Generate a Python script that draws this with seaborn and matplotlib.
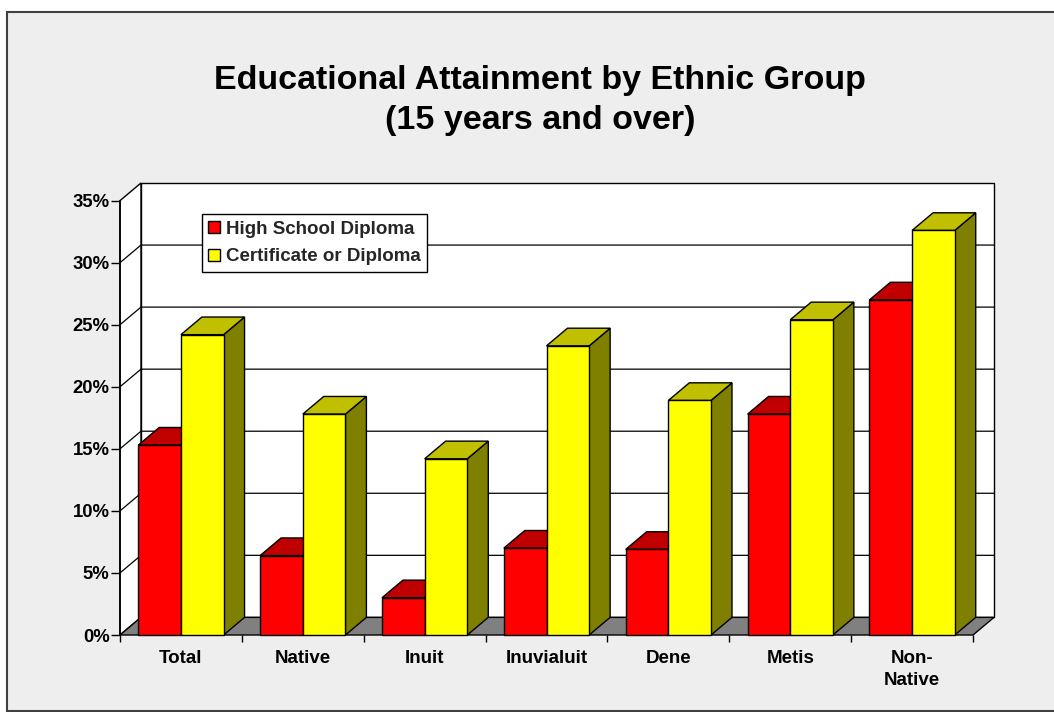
import matplotlib
matplotlib.use("Agg")
import matplotlib.pyplot as plt
from matplotlib.patches import Polygon, Rectangle
import pandas as pd
import seaborn as sns

# ---- data -------------------------------------------------------------
groups = ["Total", "Native", "Inuit", "Inuvialuit", "Dene", "Metis", "Non-\nNative"]
high_school = [15.3, 6.4, 3.0, 7.0, 6.9, 17.8, 27.0]
certificate = [24.2, 17.8, 14.2, 23.3, 18.9, 25.4, 32.6]
series_names = ["High School Diploma", "Certificate or Diploma"]
y_ticks = [0, 5, 10, 15, 20, 25, 30, 35]
y_tick_labels = [f"{t}%" for t in y_ticks]

df = pd.DataFrame({
    "group": groups + groups,
    "value": high_school + certificate,
    "series": [series_names[0]] * len(groups) + [series_names[1]] * len(groups),
})

# ---- style ------------------------------------------------------------
sns.set_theme(style="white")
plt.rcParams["font.family"] = ["Liberation Sans", "DejaVu Sans"]
plt.rcParams["font.weight"] = "bold"

front_colors = ["#FF0000", "#FFFF00"]
top_colors = ["#C00000", "#C0C000"]
side_colors = ["#800000", "#808000"]

W, H = 1054, 712
fig = plt.figure(figsize=(W / 100, H / 100), dpi=100, facecolor="white")

# chart-area panel
fig.patches.append(Rectangle((6.5 / W, 1.0 / H), 1.2, (711 - 11.5) / H,
                             transform=fig.transFigure, facecolor="#EEEEEE",
                             edgecolor="#404040", lw=1.5, zorder=-10))

# axes cover the front plane plus the depth offset of the 3-D box
ax = fig.add_axes([120 / W, (H - 635) / H, (994 - 120) / W, (635 - 183) / H])
ax.set_facecolor("none")

DX, DY = 0.172, 1.42          # oblique depth offset in data units
x_lo, x_hi = -0.5, len(groups) - 0.5
y_top = y_ticks[-1]

# back wall, side wall, floor
ax.add_patch(Rectangle((x_lo + DX, DY), x_hi - x_lo, y_top, facecolor="white",
                       edgecolor="black", lw=1, zorder=0.5, clip_on=False))
ax.add_patch(Polygon([(x_lo, 0), (x_lo, y_top), (x_lo + DX, y_top + DY), (x_lo + DX, DY)],
                     closed=True, facecolor="white", edgecolor="black", lw=1,
                     zorder=0.6, clip_on=False))
for t in y_ticks[1:-1]:
    ax.plot([x_lo, x_lo + DX, x_hi + DX], [t, t + DY, t + DY], color="black",
            lw=0.9, zorder=0.8, clip_on=False)
ax.add_patch(Polygon([(x_lo, 0), (x_hi, 0), (x_hi + DX, DY), (x_lo + DX, DY)],
                     closed=True, facecolor="#808080", edgecolor="black", lw=1,
                     zorder=1, clip_on=False))

# front faces of the columns
sns.barplot(data=df, x="group", y="value", hue="series", palette=front_colors,
            width=0.70, saturation=1, edgecolor="black", linewidth=1,
            legend=False, ax=ax)

# tops and sides of each column, painted left to right
for i in range(len(groups)):
    for s, cont in enumerate(ax.containers):
        bar = cont[i]
        x0, w, h = bar.get_x(), bar.get_width(), bar.get_height()
        z = 3 + 2 * (2 * i + s)
        ax.add_patch(Polygon([(x0 + w, 0), (x0 + w, h), (x0 + w + DX, h + DY), (x0 + w + DX, DY)],
                             closed=True, facecolor=side_colors[s], edgecolor="black",
                             lw=1, zorder=z, clip_on=False))
        ax.add_patch(Polygon([(x0, h), (x0 + w, h), (x0 + w + DX, h + DY), (x0 + DX, h + DY)],
                             closed=True, facecolor=top_colors[s], edgecolor="black",
                             lw=1, zorder=z, clip_on=False))
        bar.set_zorder(z + 1)
        bar.set_clip_on(False)

# front value axis line
ax.plot([x_lo, x_lo], [0, y_top], color="black", lw=1.2, zorder=2, clip_on=False)

ax.set_xlim(x_lo, x_hi + DX)
ax.set_ylim(0, y_top + DY)
for sp in ax.spines.values():
    sp.set_visible(False)

ax.set_yticks(y_ticks, y_tick_labels)
ax.set_xticks(range(len(groups)), groups)
ax.set_xticks([x_lo + k for k in range(len(groups) + 1)], minor=True)
ax.tick_params(axis="y", which="major", left=True, length=6.5, width=1,
               color="black", pad=1, labelsize=13.3, labelcolor="black")
ax.tick_params(axis="x", which="major", bottom=True, length=0, pad=11,
               labelsize=13.5, labelcolor="black")
ax.tick_params(axis="x", which="minor", bottom=True, length=5, width=1,
               color="black")
for lab in ax.get_xticklabels() + ax.get_yticklabels():
    lab.set_fontweight("bold")
    lab.set_linespacing(1.4)
ax.set_xlabel("")
ax.set_ylabel("")

# legend
handles = [Rectangle((0, 0), 1, 1, facecolor=c, edgecolor="black", lw=1)
           for c in front_colors]
leg = fig.legend(handles, series_names, loc="upper left",
                 bbox_to_anchor=(201.7 / W, 1 - 214.3 / H), borderaxespad=0,
                 frameon=True, fancybox=False, shadow=False, framealpha=1,
                 edgecolor="black", facecolor="white",
                 prop={"size": 13.5, "weight": "bold"},
                 handlelength=0.62, handleheight=0.62, handletextpad=0.3,
                 labelspacing=0.55, borderpad=0.35)
leg.get_frame().set_linewidth(1)

# title
title_kw = dict(ha="center", va="center", fontsize=24.5, fontweight="bold", color="black")
fig.text(540 / W, 1 - 80 / H, "Educational Attainment by Ethnic Group", **title_kw)
fig.text(540 / W, 1 - 121 / H, "(15 years and over)", **title_kw)

fig.savefig("out.png", dpi=100, facecolor=fig.get_facecolor())
